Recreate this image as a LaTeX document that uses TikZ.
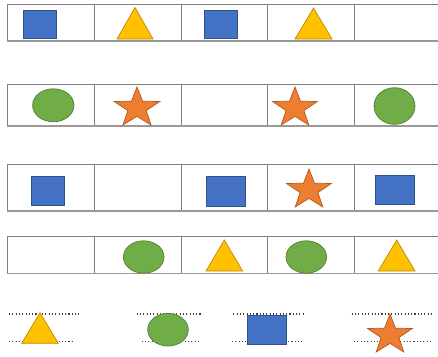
\documentclass[tikz,border=0pt]{standalone}
\usepackage{tikz}
\definecolor{bfill}{HTML}{4472C4}\definecolor{bline}{HTML}{2F528F}
\definecolor{yfill}{HTML}{FFC000}\definecolor{yline}{HTML}{BC8C00}
\definecolor{gfill}{HTML}{70AD47}\definecolor{gline}{HTML}{507E32}
\definecolor{ofill}{HTML}{ED7D31}\definecolor{oline}{HTML}{AE5A21}
\definecolor{frameline}{HTML}{7F7F7F}
\tikzset{
  bluebox/.style={fill=bfill,draw=bline,line width=0.7pt},
  yellowtri/.style={fill=yfill,draw=yline,line width=0.7pt,line join=miter},
  greenell/.style={fill=gfill,draw=gline,line width=0.7pt},
  orangestar/.style={fill=ofill,draw=oline,line width=0.7pt},
  frame/.style={draw=frameline,line width=0.8pt},
  framebot/.style={draw=frameline!80,line width=1.2pt},
  dotline/.style={draw=black!75,line width=1.1pt,dash pattern=on 1.1pt off 2.2pt}
}
% cx cy Rx Ry
\newcommand\mkstar[4]{%
  \draw[orangestar] ({#1},{#2-#4}) \foreach \a/\f in {126/0.4,162/1,198/0.4,234/1,270/0.4,306/1,342/0.4,18/1,54/0.4}{ -- ({#1+#3*\f*cos(\a)},{#2-#4*\f*sin(\a)})} -- cycle;}
% x1 x2 ybottom apexx ytop
\newcommand\mktri[5]{\draw[yellowtri] (#1,#3) -- (#4,#5) -- (#2,#3) -- cycle;}
% top bottom
\newcommand\mkrow[2]{%
  \draw[frame] (438,#1) -- (7.3,#1) -- (7.3,#2);
  \foreach \vx in {94.3,181.7,267.3,354} {\draw[frame] (\vx,#1) -- (\vx,#2);}
  \draw[framebot] (7.3,#2) -- (438,#2);}
\begin{document}
\begin{tikzpicture}[x=1pt,y=-1pt]
\useasboundingbox (0,0) rectangle (438,356);
\fill[white] (0,0) rectangle (438,356);
% row 1
\mkrow{4}{41}
\draw[bluebox] (23.3,10) rectangle (56,38.3);
\mktri{117}{153}{39}{135}{7.5}
\draw[bluebox] (204.5,10) rectangle (237,38.3);
\mktri{295}{332}{39}{313.5}{8}
% row 2
\mkrow{84.3}{126}
\draw[greenell] (53.3,105.3) ellipse [x radius=20.7pt, y radius=16.5pt];
\mkstar{137}{108}{24}{21}
\mkstar{295}{108}{23.5}{21}
\draw[greenell] (394.5,106) ellipse [x radius=20.5pt, y radius=18.3pt];
% row 3
\mkrow{164.7}{211}
\draw[bluebox] (31,176.7) rectangle (64,205);
\draw[bluebox] (206,176.7) rectangle (245,206.7);
\mkstar{309}{190}{23.5}{21}
\draw[bluebox] (375,175) rectangle (414.3,204.3);
% row 4
\mkrow{236.7}{273.3}
\draw[greenell] (143.7,257) ellipse [x radius=20.3pt, y radius=16.2pt];
\mktri{206}{242.7}{271}{224.3}{240}
\draw[greenell] (306.3,257) ellipse [x radius=20.3pt, y radius=16.2pt];
\mktri{378.3}{415}{271}{396.7}{240}
% row 5 dotted guides
\draw[dotline] (9,314) -- (79,314);
\draw[dotline] (9,341.7) -- (72.7,341.7);
\draw[dotline] (136.7,314) -- (201.7,314);
\draw[dotline] (141.7,341.7) -- (200,341.7);
\draw[dotline] (233.3,314) -- (303.3,314);
\draw[dotline] (232,341.7) -- (302.3,341.7);
\draw[dotline] (351.7,314) -- (431.7,314);
\draw[dotline] (354,341.7) -- (431.7,341.7);
% row 5 shapes
\mktri{21.7}{58.3}{343.3}{40}{312.7}
\draw[greenell] (168,329.7) ellipse [x radius=20.3pt, y radius=16.3pt];
\draw[bluebox] (247.3,315) rectangle (286,344.3);
\mkstar{390}{335}{23.5}{21}
\end{tikzpicture}
\end{document}
